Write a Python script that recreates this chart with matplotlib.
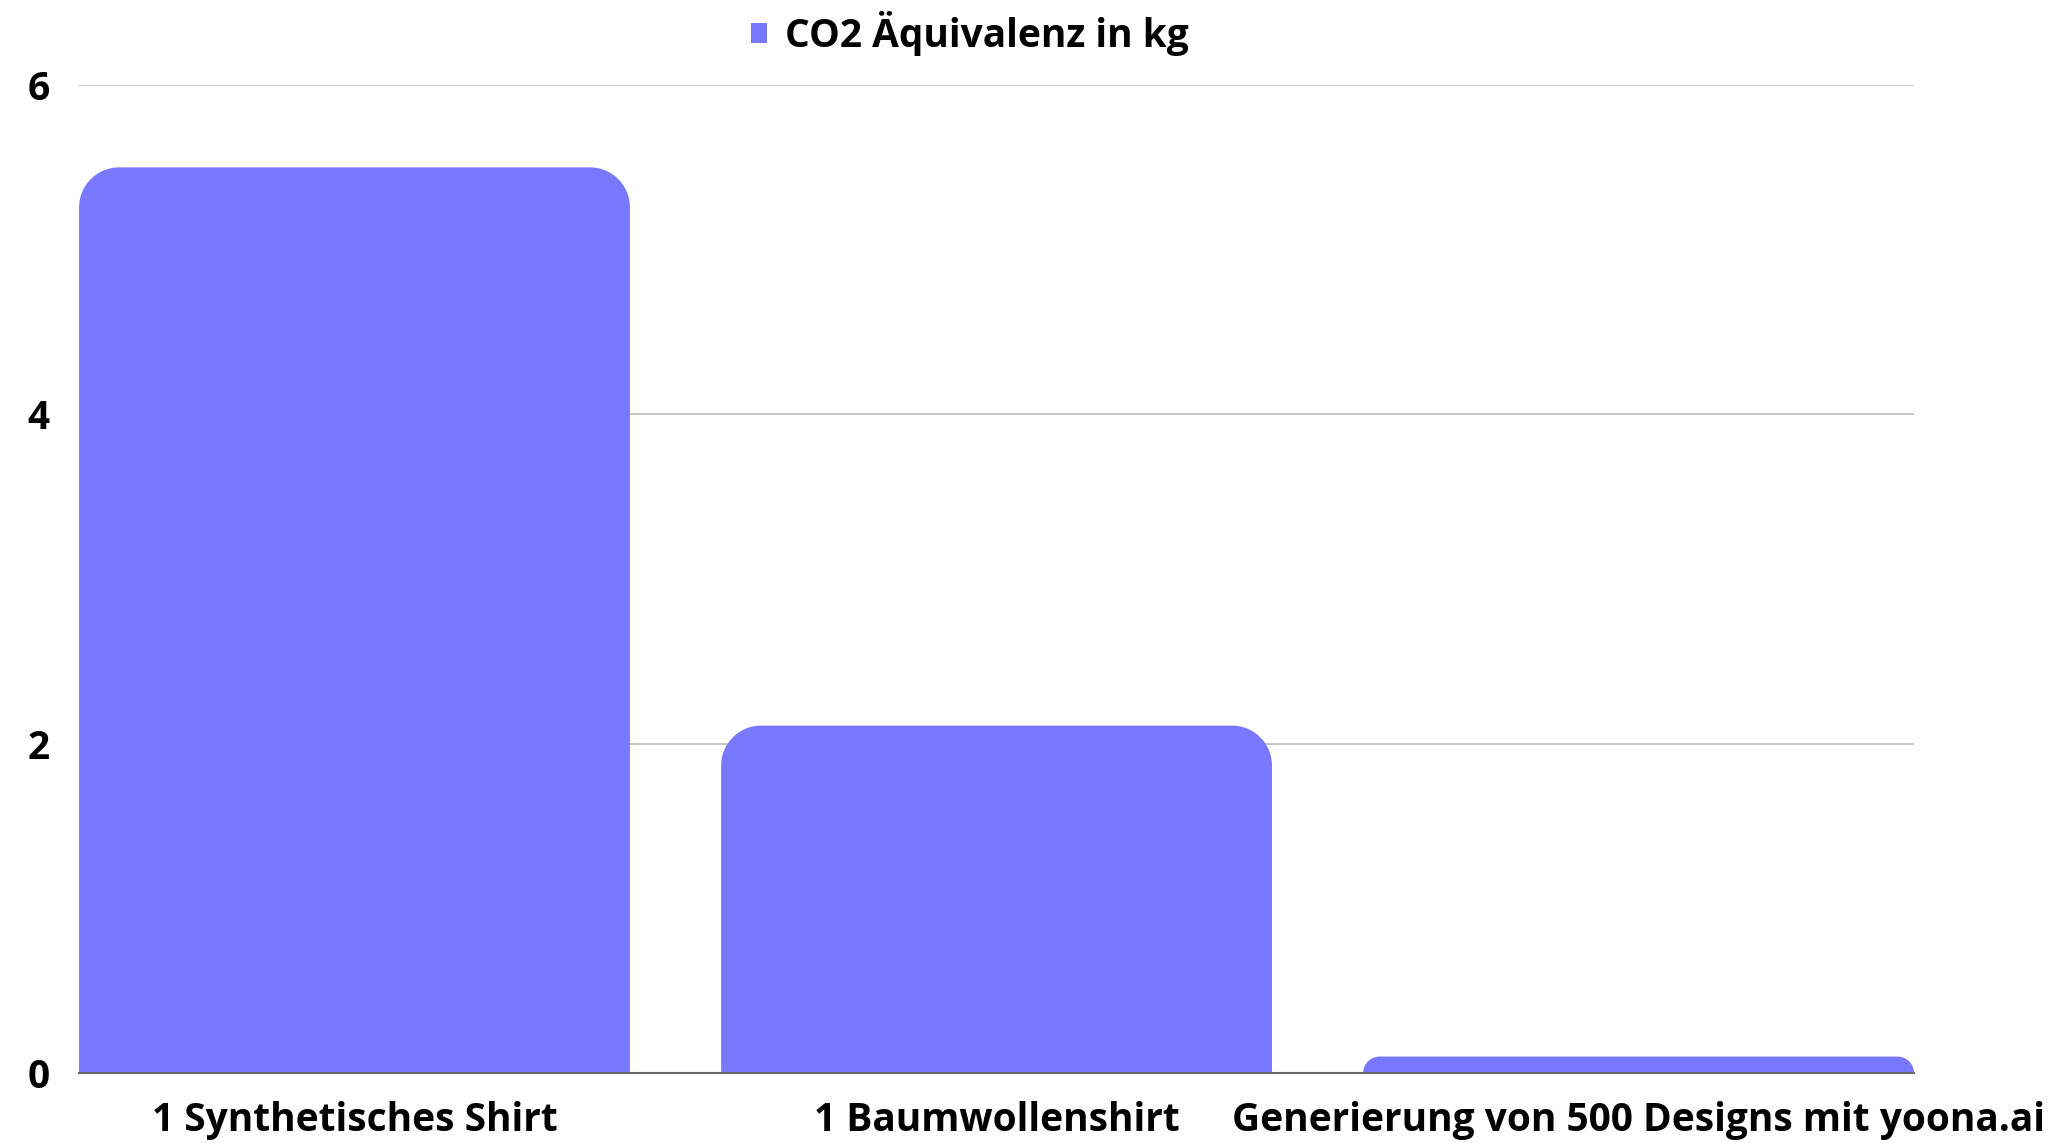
import matplotlib.pyplot as plt
from matplotlib.path import Path
from matplotlib.patches import PathPatch, Patch

categories = ["1 Synthetisches Shirt", "1 Baumwollenshirt", "Generierung von 500 Designs mit yoona.ai"]
values = [5.5, 2.11, 0.1]
series_name = "CO2 Äquivalenz in kg"
yticks = [0, 2, 4, 6]

color = "#7878ff"
plt.rcParams["font.family"] = ["Open Sans", "DejaVu Sans"]
plt.rcParams["font.weight"] = "bold"

fig = plt.figure(figsize=(20.59, 11.43), dpi=100)
ax = fig.add_axes([0.0384, 0.0612, 0.8912, 0.8644])

width = 0.858
x = list(range(len(categories)))
bars = ax.bar(x, values, width=width, color=color, zorder=2)

ax.set_xlim(-width / 2, len(categories) - 1 + width / 2)
ax.set_ylim(0, 6)
ax.set_yticks(yticks)
ax.set_xticks(x)
ax.set_xticklabels(categories)
ax.tick_params(length=0, labelsize=28)
ax.tick_params(axis="x", pad=20)
ax.tick_params(axis="y", pad=21)
for lbl in ax.get_xticklabels() + ax.get_yticklabels():
    lbl.set_fontweight("bold")

ax.grid(axis="y", color="#c0c0c0", linewidth=1.3, zorder=0)
for s in ["top", "right", "left"]:
    ax.spines[s].set_visible(False)
ax.spines["bottom"].set_color("#666666")
ax.spines["bottom"].set_linewidth(1.5)
ax.spines["bottom"].set_zorder(3)

# replace plain bars with top-rounded ones (radius in pixels)
fig.canvas.draw()
bb = ax.get_window_extent()
px_x = bb.width / (ax.get_xlim()[1] - ax.get_xlim()[0])
px_y = bb.height / (ax.get_ylim()[1] - ax.get_ylim()[0])
r_px = 40
k = 0.5523
for b in bars:
    x0, y0 = b.get_x(), b.get_y()
    w, h = b.get_width(), b.get_height()
    r = min(r_px, h * px_y)
    rx, ry = r / px_x, r / px_y
    x1, y1 = x0 + w, y0 + h
    verts = [
        (x0, y0), (x0, y1 - ry),
        (x0, y1 - ry + k * ry), (x0 + rx - k * rx, y1), (x0 + rx, y1),
        (x1 - rx, y1),
        (x1 - rx + k * rx, y1), (x1, y1 - ry + k * ry), (x1, y1 - ry),
        (x1, y0), (x0, y0),
    ]
    codes = [Path.MOVETO, Path.LINETO,
             Path.CURVE4, Path.CURVE4, Path.CURVE4,
             Path.LINETO,
             Path.CURVE4, Path.CURVE4, Path.CURVE4,
             Path.LINETO, Path.CLOSEPOLY]
    ax.add_patch(PathPatch(Path(verts, codes), facecolor=color, edgecolor="none", zorder=2))
    b.set_visible(False)

handle = Patch(facecolor=color, edgecolor="none")
leg = fig.legend([handle], [series_name], loc="center", bbox_to_anchor=(0.471, 0.971),
                 frameon=False, prop={"size": 28, "weight": "bold"},
                 handlelength=0.42, handleheight=0.42, handletextpad=0.45)

fig.savefig("out.png", dpi=100)
